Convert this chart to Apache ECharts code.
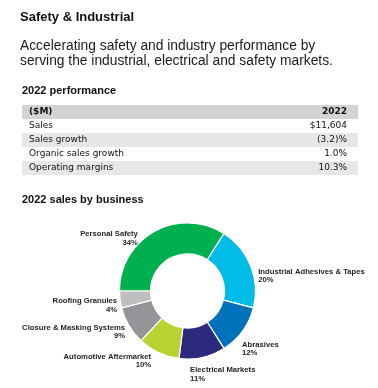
<!DOCTYPE html>
<html>
<head>
<meta charset="utf-8">
<script src="https://cdn.jsdelivr.net/npm/echarts@6/dist/echarts.min.js"></script>
<style>
html,body{margin:0;padding:0;background:#fff;}
#chart{width:378px;height:388px;}
</style>
</head>
<body>
<div id="chart"></div>
<script>
const businesses = ['Personal Safety','Industrial Adhesives & Tapes','Abrasives','Electrical Markets','Automotive Aftermarket','Closure & Masking Systems','Roofing Granules'];
const shares = [34, 20, 12, 11, 10, 9, 4];
const sliceColors = ['#00b04f','#00bce7','#0072bc','#2b2a7c','#b8d433','#939598','#bcbec0'];

const tableHeader = ['($M)', '2022'];
const metricNames = ['Sales','Sales growth','Organic sales growth','Operating margins'];
const metricValues = ['$11,604','(3.2)%','1.0%','10.3%'];

// label nudges (style only)
const labelNudge = [[-6,14],[-7,13],[-14,13],[-21,9],[3,1],[10,2],[12,5]];

const chart = echarts.init(document.getElementById('chart'), null, {renderer:'canvas'});

const F = '"Liberation Sans", Arial, sans-serif';
const graphics = [];
graphics.push({type:'text', left:20, top:11, style:{text:'Safety & Industrial', font:'bold 13px '+F, fill:'#111'}});
graphics.push({type:'text', left:20, top:39, style:{text:'Accelerating safety and industry performance by\nserving the industrial, electrical and safety markets.', font:'13.8px '+F, lineHeight:14.5, fill:'#1a1a1a'}});
graphics.push({type:'text', left:22, top:85, style:{text:'2022 performance', font:'bold 11px '+F, fill:'#111'}});

const tx0 = 22, tx1 = 358, ty0 = 105, rh = 14;
const TF = '"DejaVu Sans", sans-serif';
graphics.push({type:'rect', shape:{x:tx0, y:ty0, width:tx1-tx0, height:rh}, style:{fill:'#d1d3d4'}, silent:true});
graphics.push({type:'text', x:29, y:ty0+rh/2, style:{text:tableHeader[0], font:'bold 9px '+TF, fill:'#111', verticalAlign:'middle', align:'left'}});
graphics.push({type:'text', x:347, y:ty0+rh/2, style:{text:tableHeader[1], font:'bold 9px '+TF, fill:'#111', verticalAlign:'middle', align:'right'}});
metricNames.forEach((n,i)=>{
  const y = ty0 + rh*(i+1);
  graphics.push({type:'rect', shape:{x:tx0, y:y, width:tx1-tx0, height:rh}, style:{fill: i%2===1 ? '#e6e7e8' : '#ffffff'}, silent:true});
  graphics.push({type:'text', x:29, y:y+rh/2, style:{text:n, font:'9px '+TF, fill:'#111', verticalAlign:'middle', align:'left'}});
  graphics.push({type:'text', x:347, y:y+rh/2, style:{text:metricValues[i], font:'9px '+TF, fill:'#111', verticalAlign:'middle', align:'right'}});
});
graphics.push({type:'text', left:22, top:194, style:{text:'2022 sales by business', font:'bold 11px '+F, fill:'#111'}});

chart.setOption({
  animation:false,
  graphic: graphics,
  series:[{
    type:'pie',
    center:[187.5, 291],
    radius:[37, 68],
    startAngle:180,
    clockwise:true,
    avoidLabelOverlap:false,
    itemStyle:{borderColor:'#fff', borderWidth:1.2},
    label:{show:true, position:'outside', formatter:'{b}\n{c}%', fontFamily:F, fontWeight:'bold', fontSize:7.7, lineHeight:8.5, color:'#231f20'},
    labelLine:{show:false, length:8, length2:2},
    labelLayout: function(p){ const n = labelNudge[p.dataIndex]; return {dx:n[0], dy:n[1]}; },
    data: businesses.map((b,i)=>({name:b, value:shares[i], itemStyle:{color:sliceColors[i]}}))
  }]
});
</script>
</body>
</html>
